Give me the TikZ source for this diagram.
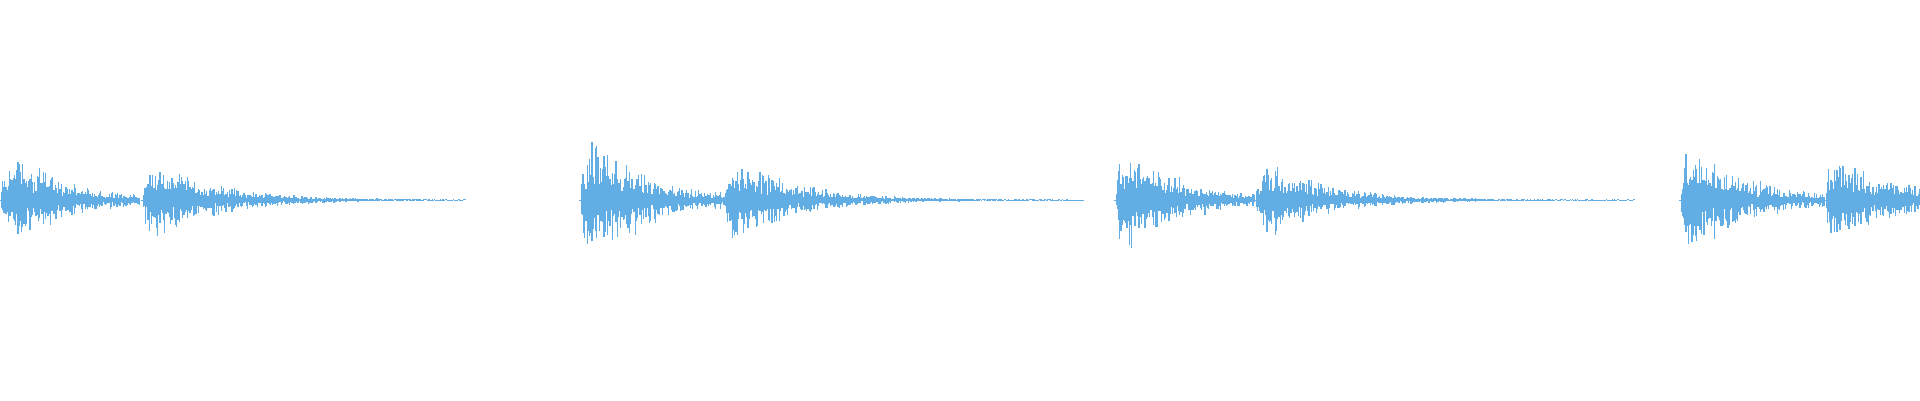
\documentclass[tikz,border=0pt]{standalone}
\usetikzlibrary{positioning}
\definecolor{wavecol}{HTML}{62ADE4}
\tikzset{wave/.style={draw=wavecol,line width=0.35pt}}
\begin{document}
\begin{tikzpicture}
\useasboundingbox (0,0) rectangle (19.2,4);
\pgfmathsetseed{42}
% onset / length / peak amplitude
\foreach \s/\len/\A in {0/1.4/0.62, 1.42/3.25/0.58, 5.8/1.44/0.88, 7.24/3.6/0.63,
                        11.15/1.4/0.68, 12.55/3.8/0.53, 16.8/1.45/0.78, 18.25/0.95/0.66}{
  \foreach \t in {0,0.012,...,\len}{
    \pgfmathsetmacro\a{\A*(1-exp(-\t/0.04))*exp(-\t/0.6)*(0.5+0.5*rnd)+0.005}
    \pgfmathsetmacro\x{\s+\t}
    \draw[wave] (\x,{2-\a*(0.3+0.7*rnd)}) -- (\x,{2+\a*(0.3+0.7*rnd)});
  }
}
\end{tikzpicture}
\end{document}
